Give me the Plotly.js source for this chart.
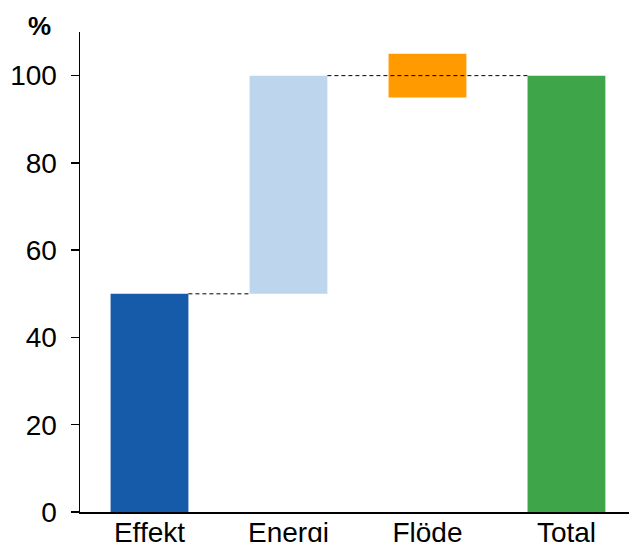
<!DOCTYPE html>
<html>
<head>
<meta charset="utf-8">
<script src="https://cdn.plot.ly/plotly-3.0.1.min.js"></script>
<style>html,body{margin:0;padding:0;background:#fff;}#chart{width:629px;height:542px;}</style>
</head>
<body>
<div id="chart"></div>
<script>
// Waterfall of shares: each step floats on its base
var categories = ['Effekt', 'Energi', 'Flöde', 'Total'];
var bases = [0, 50, 95, 0];
var heights = [50, 50, 10, 100];
var colors = ['#165BAA', '#BDD6EE', '#FF9A00', '#3EA548'];
var yTicks = [0, 20, 40, 60, 80, 100];

var barWidth = 0.56;
var xs = categories.map(function (_, i) { return i; });

var traces = [];

// Dashed connectors: top of one step to the start of the next level
var connectors = [
  { from: 0, to: 1, level: bases[0] + heights[0] },
  { from: 1, to: 3, level: bases[1] + heights[1] }
];
connectors.forEach(function (c) {
  traces.push({
    type: 'scatter', mode: 'lines',
    x: [xs[c.from] + barWidth / 2, xs[c.to] - barWidth / 2],
    y: [c.level, c.level],
    line: { color: '#000', width: 1, dash: '4px,3px' },
    hoverinfo: 'skip', showlegend: false
  });
});

traces.push({
  type: 'bar',
  x: xs,
  y: heights,
  base: bases,
  width: barWidth,
  marker: { color: colors, line: { width: 0 } },
  showlegend: false
});

var layout = {
  width: 629, height: 542,
  margin: { l: 80, r: 0, t: 32, b: 30 },
  paper_bgcolor: '#fff', plot_bgcolor: '#fff',
  font: { family: 'Liberation Sans, Arial, sans-serif', color: '#000', size: 28 },
  xaxis: {
    range: [-0.5, 3.45],
    tickmode: 'array', tickvals: xs, ticktext: categories,
    showgrid: false, zeroline: false,
    showline: true, linecolor: '#000', linewidth: 1.5,
    ticks: '', ticklabelstandoff: -5,
    tickfont: { size: 28 }
  },
  yaxis: {
    range: [0, 110],
    tickmode: 'array', tickvals: yTicks, ticktext: yTicks.map(String),
    showgrid: false, zeroline: false,
    showline: true, linecolor: '#000', linewidth: 1.5,
    ticks: 'outside', ticklen: 8, tickwidth: 1.5, tickcolor: '#000',
    ticklabelstandoff: 8,
    tickfont: { size: 28 }
  },
  annotations: [{
    text: '<b>%</b>', xref: 'paper', yref: 'paper',
    x: -0.074, y: 1.0115, xanchor: 'center', yanchor: 'middle',
    showarrow: false, font: { size: 26, color: '#000' }
  }]
};

Plotly.newPlot('chart', traces, layout, { displayModeBar: false, staticPlot: true });
</script>
</body>
</html>
